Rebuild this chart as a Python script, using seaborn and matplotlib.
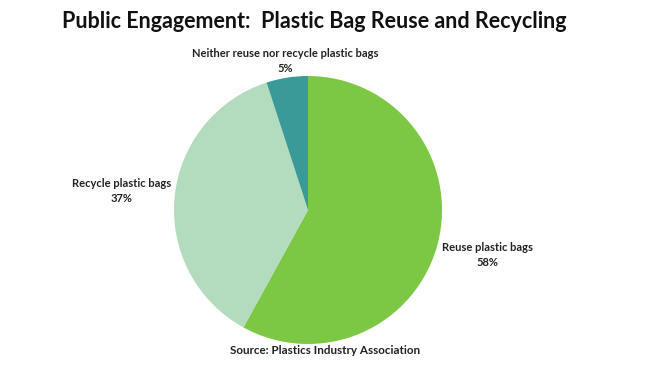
import matplotlib
matplotlib.use("Agg")
import matplotlib.pyplot as plt
import seaborn as sns

categories = ["Reuse plastic bags", "Recycle plastic bags", "Neither reuse nor recycle plastic bags"]
shares = [58, 37, 5]
colors = ["#7cc845", "#b3dbbd", "#3a9a97"]

title = "Public Engagement:  Plastic Bag Reuse and Recycling"
source = "Source: Plastics Industry Association"

sns.set_theme(style="white")
plt.rcParams["font.family"] = ["Lato", "DejaVu Sans"]

W, H = 650, 366
fig = plt.figure(figsize=(W / 100, H / 100), dpi=100)
fig.patch.set_facecolor("white")

# pie centre and radius in pixels
cx, cy, r = 308, 210, 134
ax = fig.add_axes([(cx - r) / W, (H - cy - r) / H, 2 * r / W, 2 * r / H])
ax.pie(shares, colors=colors, startangle=90, counterclock=False,
       wedgeprops=dict(linewidth=0))
ax.set_xlim(-1, 1)
ax.set_ylim(-1, 1)
ax.set_aspect("equal")
ax.axis("off")

# label anchor positions (pixels, top-left origin)
label_pos = [(487, 255), (122, 191), (285, 61)]
for name, val, (px, py) in zip(categories, shares, label_pos):
    fig.text(px / W, 1 - py / H, f"{name}\n{val}%", ha="center", va="center",
             fontsize=8, fontweight="bold", color="#222222", linespacing=1.35)

fig.text(314 / W, 1 - 22 / H, title, ha="center", va="center",
         fontsize=15.5, fontweight="bold", color="#111111")
fig.text(325 / W, 1 - 351 / H, source, ha="center", va="center",
         fontsize=8.4, fontweight="bold", color="#222222")

fig.savefig("out.png", dpi=100, facecolor="white")
